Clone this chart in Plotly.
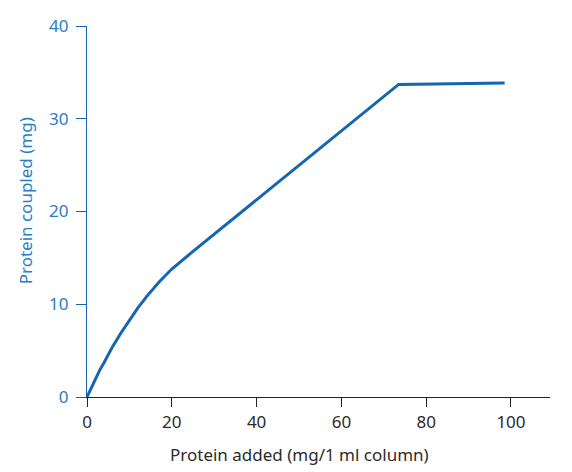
import plotly.graph_objects as go

protein_added = [0, 1, 2, 3, 4, 6, 8, 10, 12, 14, 17, 20, 22.5, 25, 73.5, 85, 98.5]
protein_coupled = [0, 1.0, 2.0, 2.9, 3.7, 5.4, 6.9, 8.3, 9.6, 10.8, 12.4, 13.8, 14.8, 15.7, 33.7, 33.75, 33.85]

x_ticks = [0, 20, 40, 60, 80, 100]
y_ticks = [0, 10, 20, 30, 40]

x_title = "Protein added (mg/1 ml column)"
y_title = "Protein coupled (mg)"

blue = "#1565b0"
label_blue = "#2a7cc7"
dark = "#2b2b2b"
font_family = "'Noto Sans', Lato, sans-serif"

fig = go.Figure()
fig.add_trace(go.Scatter(
    x=protein_added, y=protein_coupled, mode="lines",
    line=dict(color=blue, width=3), cliponaxis=False, showlegend=False,
))

fig.update_layout(
    width=572, height=472,
    margin=dict(l=79, r=30, t=18, b=83, autoexpand=False),
    paper_bgcolor="white", plot_bgcolor="white",
    font=dict(family=font_family, size=17, color=dark),
)
fig.update_xaxes(
    range=[0, 109.2], tickvals=x_ticks, ticktext=[str(v) for v in x_ticks],
    showgrid=False, zeroline=False, showline=True, linecolor="#222", linewidth=1.3,
    ticks="outside", ticklen=9, tickcolor="#222", tickwidth=1.3,
    tickfont=dict(size=17, color=dark), automargin=False,
)
fig.update_yaxes(
    range=[0, 40], tickvals=y_ticks, ticktext=[str(v) for v in y_ticks],
    showgrid=False, zeroline=False, showline=True, linecolor=blue, linewidth=1.3,
    ticks="outside", ticklen=10, tickcolor=blue, tickwidth=1.3,
    tickfont=dict(size=17, color=label_blue), ticklabelstandoff=4, automargin=False,
)
fig.add_annotation(
    text=x_title, xref="paper", yref="paper", x=0.46, y=-0.155,
    xanchor="center", yanchor="middle", showarrow=False,
    font=dict(size=17, color=dark),
)
fig.add_annotation(
    text=y_title, xref="paper", yref="paper", x=-0.134, y=0.53,
    xanchor="center", yanchor="middle", textangle=-90, showarrow=False,
    font=dict(size=17, color=label_blue),
)

fig.write_html("out.html")
